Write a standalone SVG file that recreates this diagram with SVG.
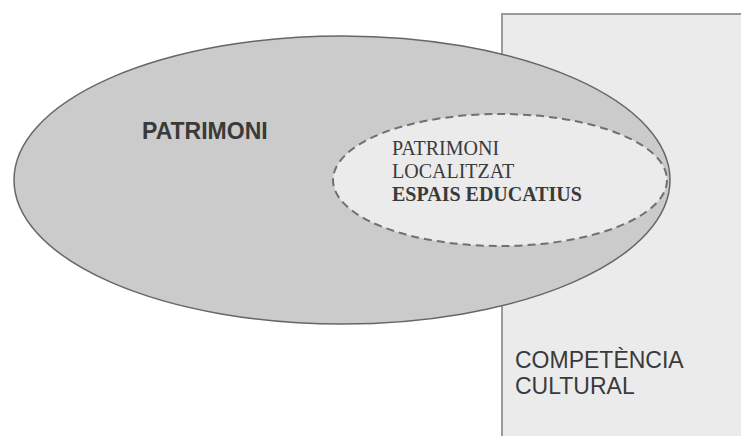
<svg xmlns="http://www.w3.org/2000/svg" width="741" height="436" viewBox="0 0 741 436">
<style>
.sans{font-family:"Liberation Sans",Arial,sans-serif;font-size:23px;fill:#3a3a3a}
.serif{font-family:"Liberation Serif","Times New Roman",serif;font-size:20px;fill:#3a3a3a}
</style>
<rect width="741" height="436" fill="#fff"/>
<g id="competencia">
<rect x="502" y="14" width="250" height="440" fill="#ebebeb" stroke="#9a9a9a" stroke-width="2"/>
<text class="sans" x="515" y="368">COMPETÈNCIA</text>
<text class="sans" x="515" y="394">CULTURAL</text>
</g>
<g id="patrimoni">
<ellipse cx="342" cy="180" rx="328" ry="144" fill="#cbcbcb" stroke="#666" stroke-width="1.5"/>
<text class="sans" x="142" y="139" font-size="23.5" font-weight="bold">PATRIMONI</text>
</g>
<g id="localitzat">
<ellipse cx="500" cy="180" rx="167" ry="66" fill="#ebebeb" stroke="#707070" stroke-width="2" stroke-dasharray="8,5"/>
<text class="serif" x="392" y="155">PATRIMONI</text>
<text class="serif" x="392" y="178">LOCALITZAT</text>
<text class="serif" x="392" y="201" font-weight="bold">ESPAIS EDUCATIUS</text>
</g>
<g id="connectors"/>
</svg>
